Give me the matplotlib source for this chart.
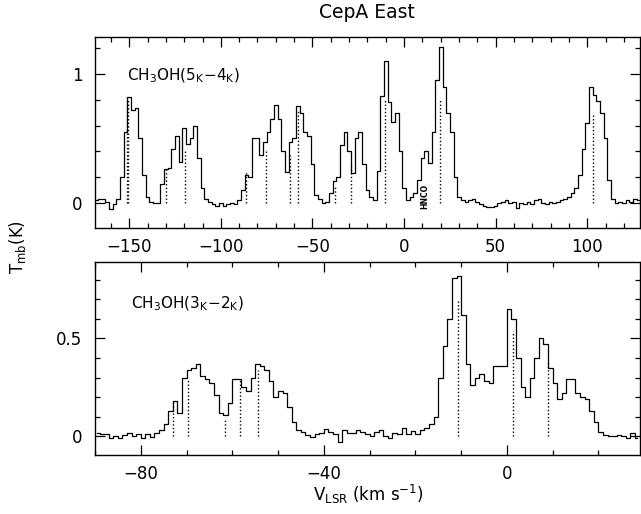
import numpy as np
import matplotlib
matplotlib.use('Agg')
import matplotlib.pyplot as plt
from matplotlib.ticker import MultipleLocator, FuncFormatter

# CH3OH(5K-4K) spectrum, channels of 2 km/s starting at -168 km/s
v0_top = -168.0
dv_top = 2.0
T_top = [
    0.02, 0.03, 0.03, 0.01, -0.05, -0.01, 0.03, 0.20, 0.55, 0.82,
    0.72, 0.74, 0.50, 0.22, 0.05, 0.01, 0.00, 0.00, 0.15, 0.26,
    0.27, 0.42, 0.52, 0.32, 0.58, 0.46, 0.50, 0.60, 0.35, 0.12,
    0.03, 0.01, -0.01, -0.02, 0.00, -0.02, -0.01, 0.00, -0.01, 0.02,
    0.10, 0.22, 0.20, 0.50, 0.50, 0.37, 0.47, 0.55, 0.65, 0.76,
    0.65, 0.40, 0.24, 0.47, 0.50, 0.75, 0.70, 0.55, 0.52, 0.30,
    0.06, 0.03, 0.00, 0.01, 0.08, 0.17, 0.20, 0.45, 0.55, 0.40,
    0.23, 0.50, 0.55, 0.30, 0.10, 0.05, 0.02, 0.25, 0.83, 1.10,
    0.78, 0.63, 0.70, 0.40, 0.12, 0.02, 0.05, 0.08, 0.18, 0.35,
    0.40, 0.31, 0.55, 0.95, 1.21, 0.90, 0.70, 0.55, 0.20, 0.05,
    0.02, 0.01, 0.02, 0.03, 0.01, -0.01, -0.02, -0.03, -0.03, -0.02,
    0.00, 0.01, 0.02, 0.00, 0.01, -0.04, 0.00, -0.01, 0.01, -0.01,
    0.02, 0.03, 0.00, -0.01, 0.01, 0.00, 0.01, 0.02, 0.03, 0.05,
    0.08, 0.12, 0.22, 0.42, 0.62, 0.90, 0.84, 0.79, 0.70, 0.50,
    0.18, 0.03, 0.00, 0.01, 0.00, 0.02, 0.01, 0.03, 0.02,
]

# CH3OH(3K-2K) spectrum, channels of 1 km/s starting at -89.5 km/s
v0_bot = -89.5
dv_bot = 1.0
T_bot = [
    0.015, 0.01, 0.01, -0.01, 0.0, -0.01, 0.005, 0.015, 0.0, 0.01,
    -0.01, 0.01, -0.005, 0.015, 0.03, 0.06, 0.13, 0.18, 0.12, 0.30,
    0.34, 0.35, 0.37, 0.31, 0.29, 0.27, 0.21, 0.12, 0.11, 0.17,
    0.29, 0.29, 0.25, 0.23, 0.30, 0.37, 0.36, 0.34, 0.28, 0.20,
    0.23, 0.22, 0.15, 0.07, 0.03, 0.02, 0.005, -0.005, 0.01, 0.015,
    0.036, 0.02, 0.01, -0.03, 0.03, 0.015, 0.015, 0.03, 0.02, 0.01,
    0.0, 0.02, 0.03, 0.0, -0.01, 0.015, 0.01, 0.04, 0.01, 0.025,
    0.01, 0.03, 0.04, 0.06, 0.10, 0.30, 0.46, 0.60, 0.81, 0.82,
    0.62, 0.37, 0.26, 0.30, 0.32, 0.28, 0.27, 0.36, 0.36, 0.36,
    0.65, 0.60, 0.40, 0.25, 0.20, 0.30, 0.40, 0.50, 0.47, 0.35,
    0.27, 0.19, 0.22, 0.29, 0.29, 0.22, 0.20, 0.19, 0.13, 0.07,
    0.02, 0.005, 0.0, 0.0, 0.005, 0.0, -0.01, 0.015, -0.01,
]

# line markers (velocity, height)
mark_top_v = [-151.5, -150.5, -129.9, -119.5, -86.2, -75.3, -62.0, -58.0,
              -37.7, -29.1, -10.4, 19.8, 103.0]
mark_top_T = [0.82, 0.80, 0.26, 0.40, 0.24, 0.40, 0.37, 0.72,
              0.13, 0.31, 0.80, 0.80, 0.68]
mark_bot_v = [-73.0, -69.7, -61.6, -58.4, -54.4, -10.6, 1.3, 8.9]
mark_bot_T = [0.18, 0.295, 0.09, 0.287, 0.338, 0.70, 0.54, 0.39]

hnco_v = 11.5
hnco_T = 0.05

v_top = v0_top + dv_top * np.arange(len(T_top))
v_bot = v0_bot + dv_bot * np.arange(len(T_bot))

plt.rcParams['font.family'] = 'DejaVu Sans'
plt.rcParams['font.size'] = 12
plt.rcParams['axes.linewidth'] = 1.0

W, H = 641, 514
fig = plt.figure(figsize=(W / 100, H / 100), dpi=100)
ax1 = fig.add_axes([95 / W, 1 - 228 / H, 545 / W, 191 / H])
ax2 = fig.add_axes([95 / W, 1 - 455 / H, 545 / W, 193 / H])

ax1.plot(v_top, T_top, drawstyle='steps-mid', color='k', lw=0.9)
ax1.vlines(mark_top_v, 0, mark_top_T, colors='k', linestyles=(0, (1, 1.6)), lw=1.0)
ax2.plot(v_bot, T_bot, drawstyle='steps-mid', color='k', lw=0.9)
ax2.vlines(mark_bot_v, 0, mark_bot_T, colors='k', linestyles=(0, (1, 1.6)), lw=1.0)

ax1.set_xlim(-168.7, 128.8)
ax1.set_ylim(-0.194, 1.287)
ax2.set_xlim(-90, 29.1)
ax2.set_ylim(-0.097, 0.892)

ax1.xaxis.set_major_locator(MultipleLocator(50))
ax1.xaxis.set_minor_locator(MultipleLocator(10))
ax1.yaxis.set_major_locator(MultipleLocator(1))
ax1.yaxis.set_minor_locator(MultipleLocator(0.2))
ax2.xaxis.set_major_locator(MultipleLocator(40))
ax2.xaxis.set_minor_locator(MultipleLocator(10))
ax2.yaxis.set_major_locator(MultipleLocator(0.5))
ax2.yaxis.set_minor_locator(MultipleLocator(0.1))

for ax in (ax1, ax2):
    ax.tick_params(which='both', direction='in', top=True, right=True, width=0.9)
    ax.tick_params(which='major', length=7, pad=7, labelsize=12)
    ax.tick_params(which='minor', length=3.5)
    ax.yaxis.set_major_formatter(FuncFormatter(lambda y, p: '%g' % y))
    ax.tick_params(axis='y', pad=9)

ax1.text(-151.2, 0.99, r'$\mathregular{CH_3OH(5_K{-}4_K)}$', fontsize=11, ha='left', va='center')
ax2.text(-82.1, 0.68, r'$\mathregular{CH_3OH(3_K{-}2_K)}$', fontsize=11, ha='left', va='center')
ax1.text(hnco_v, hnco_T, 'HNCO', fontsize=5.5, fontweight='bold', rotation=90,
         ha='center', va='center')

fig.text(367 / W, 1 - 12 / H, 'CepA East', ha='center', va='center', fontsize=13.5)
fig.text(18 / W, 1 - 247 / H, r'$\mathregular{T_{mb}(K)}$', rotation=90,
         ha='center', va='center', fontsize=12)
fig.text(368 / W, 1 - 494 / H, r'$\mathregular{V_{LSR}\ (km\ s^{-1})}$',
         ha='center', va='center', fontsize=12)

fig.savefig('out.png', dpi=100)
